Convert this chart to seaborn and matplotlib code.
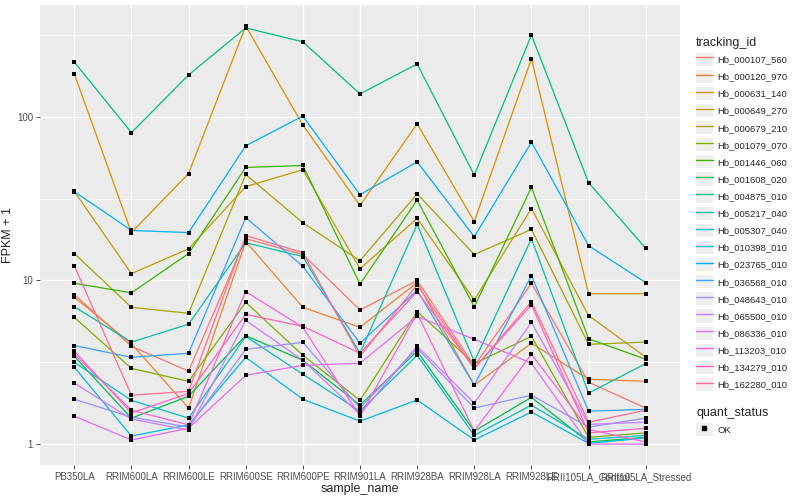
import numpy as np, pandas as pd
import matplotlib
matplotlib.use('Agg')
import matplotlib.pyplot as plt
import seaborn as sns
from matplotlib.lines import Line2D
from matplotlib.patches import Rectangle
from matplotlib.legend_handler import HandlerTuple

### Samples along the x axis:
sample_names = ['PB350LA', 'RRIM600LA', 'RRIM600LE', 'RRIM600SE', 'RRIM600PE', 'RRIM901LA',
                'RRIM928BA', 'RRIM928LA', 'RRIM928LE', 'RRII105LA_Control', 'RRII105LA_Stressed']

### FPKM + 1 per gene:
Hb_000107_560 = [8.2, 3.96, 2.79, 18.0, 14.4, 6.6, 10.0, 3.0, 9.6, 2.39, 1.66]
Hb_000120_970 = [7.9, 4.1, 1.66, 17.3, 6.85, 5.17, 9.7, 2.29, 4.13, 2.49, 2.42]
Hb_000631_140 = [183, 19.6, 45, 359, 89, 28.7, 90.6, 22.9, 226, 8.3, 8.3]
Hb_000649_270 = [35, 11.0, 15.6, 37.4, 47.5, 11.8, 23.9, 7.6, 27.5, 6.1, 3.4]
Hb_000679_210 = [14.6, 6.85, 6.3, 44.4, 22.5, 13.2, 33.8, 14.4, 20.5, 4.07, 4.2]
Hb_001079_070 = [5.95, 2.9, 2.42, 7.35, 3.49, 1.85, 6.45, 3.1, 4.55, 1.1, 1.17]
Hb_001446_060 = [9.6, 8.4, 14.6, 49, 50.4, 9.5, 31, 6.9, 37, 4.4, 3.3]
Hb_001608_020 = [3.44, 1.44, 1.96, 4.6, 3.25, 1.73, 3.69, 1.2, 1.93, 1.03, 1.1]
Hb_004875_010 = [216, 80, 180, 349, 287, 138, 210, 44, 316, 39.6, 15.7]
Hb_005217_040 = [6.9, 4.2, 5.4, 17.0, 14.0, 3.6, 22, 3.2, 18, 2.05, 3.1]
Hb_005307_040 = [3.16, 1.85, 1.44, 4.55, 2.67, 1.59, 3.49, 1.13, 1.73, 1.07, 1.13]
Hb_010398_010 = [2.95, 1.12, 1.31, 3.39, 1.88, 1.38, 1.86, 1.06, 1.57, 1.01, 1.09]
Hb_023765_010 = [34.9, 20.2, 19.6, 66.5, 101, 33.4, 53, 18.5, 70, 16.3, 9.7]
Hb_036568_010 = [4.0, 3.39, 3.59, 24.2, 12.2, 4.13, 8.7, 2.29, 10.7, 1.59, 1.63]
Hb_048643_010 = [1.88, 1.46, 1.27, 3.79, 4.19, 1.66, 3.85, 1.66, 1.99, 1.27, 1.44]
Hb_065500_010 = [2.36, 1.42, 1.22, 5.7, 3.25, 1.52, 3.96, 1.78, 5.54, 1.32, 1.36]
Hb_086336_010 = [1.48, 1.06, 1.25, 2.63, 3.03, 3.12, 6.03, 4.37, 3.12, 1.0, 1.0]
Hb_113203_010 = [3.54, 1.61, 1.31, 8.55, 5.17, 1.48, 6.3, 1.2, 3.54, 1.23, 1.03]
Hb_134279_010 = [3.69, 1.55, 2.04, 6.2, 5.24, 3.59, 8.55, 2.9, 7.1, 1.17, 1.25]
Hb_162280_010 = [12.3, 1.99, 2.1, 18.8, 14.8, 3.44, 9.4, 2.9, 7.4, 1.36, 1.61]

tracking_ids = ['Hb_000107_560', 'Hb_000120_970', 'Hb_000631_140', 'Hb_000649_270', 'Hb_000679_210',
                'Hb_001079_070', 'Hb_001446_060', 'Hb_001608_020', 'Hb_004875_010', 'Hb_005217_040',
                'Hb_005307_040', 'Hb_010398_010', 'Hb_023765_010', 'Hb_036568_010', 'Hb_048643_010',
                'Hb_065500_010', 'Hb_086336_010', 'Hb_113203_010', 'Hb_134279_010', 'Hb_162280_010']
seriesList = [Hb_000107_560, Hb_000120_970, Hb_000631_140, Hb_000649_270, Hb_000679_210,
              Hb_001079_070, Hb_001446_060, Hb_001608_020, Hb_004875_010, Hb_005217_040,
              Hb_005307_040, Hb_010398_010, Hb_023765_010, Hb_036568_010, Hb_048643_010,
              Hb_065500_010, Hb_086336_010, Hb_113203_010, Hb_134279_010, Hb_162280_010]

# ggplot default hue palette for 20 levels:
huePalette = ['#F8766D', '#EA8331', '#D89000', '#C09B00', '#A3A500', '#7CAE00', '#39B600', '#00BB4E',
              '#00BF7D', '#00C1A3', '#00BFC4', '#00BAE0', '#00B0F6', '#35A2FF', '#9590FF', '#C77CFF',
              '#E76BF3', '#FA62DB', '#FF62BC', '#FF6C91']

# Long format dataframe:
rows = []
for eachId, eachSeries in zip(tracking_ids, seriesList):
    for i, eachValue in enumerate(eachSeries):
        rows.append({'tracking_id': eachId, 'pos': i, 'sample_name': sample_names[i], 'fpkm': eachValue})
df = pd.DataFrame(rows)

### Style (ggplot grey look):
sns.set_theme(style='darkgrid', rc={'axes.facecolor': '#EBEBEB', 'grid.color': 'white'})
plt.rcParams['font.family'] = ['Liberation Sans', 'DejaVu Sans']

fig, ax = plt.subplots(figsize=(8, 5), dpi=100)
plt.subplots_adjust(left=0.05, right=0.85, top=0.99, bottom=0.07)

sns.lineplot(data=df, x='pos', y='fpkm', hue='tracking_id', hue_order=tracking_ids, palette=huePalette,
             estimator=None, sort=False, linewidth=0.9, legend=False, ax=ax)
sns.scatterplot(data=df, x='pos', y='fpkm', color='black', s=9, marker='s', linewidth=0, legend=False, ax=ax, zorder=5)

ax.set_yscale('log')
logMin, logMax = np.log10(df.fpkm.min()), np.log10(df.fpkm.max())
pad = (logMax - logMin) * 0.05
ax.set_ylim(10 ** (logMin - pad), 10 ** (logMax + pad))
ax.set_xlim(-0.6, len(sample_names) - 0.4)

ax.set_yticks([1, 10, 100])
ax.set_yticklabels(['1', '10', '100'])
ax.set_yticks([10 ** 0.5, 10 ** 1.5, 10 ** 2.5], minor=True)
ax.set_xticks(range(len(sample_names)))
ax.set_xticklabels(sample_names)
ax.grid(which='major', color='white', linewidth=1.0)
ax.grid(which='minor', axis='y', color='white', linewidth=0.5)
ax.tick_params(which='major', length=3, width=0.6, color='#333333', labelsize=7, labelcolor='#4D4D4D', pad=2)
ax.tick_params(which='minor', length=0)
ax.tick_params(axis='x', bottom=True)
ax.tick_params(axis='y', left=True)
for s in ax.spines.values():
    s.set_visible(False)

ax.set_xlabel('sample_name', fontsize=9, labelpad=1)
ax.set_ylabel('FPKM + 1', fontsize=9, labelpad=2)

# Legends (grey key boxes like ggplot):
keyBox = lambda: Rectangle((0, 0), 1, 1, facecolor='#EFEFEF', edgecolor='none')
handles = [(keyBox(), Line2D([], [], color=c, linewidth=1.0)) for c in huePalette]
leg1 = fig.legend(handles, tracking_ids, title='tracking_id', loc='upper left', bbox_to_anchor=(0.862, 0.94),
                  frameon=False, fontsize=6.8, title_fontsize=9, handlelength=1.75, handleheight=1.75,
                  labelspacing=0.43, handletextpad=0.5, borderpad=0.2,
                  handler_map={tuple: HandlerTuple(ndivide=1, pad=0)})
leg1._legend_box.align = 'left'
okHandle = [(keyBox(), Line2D([], [], color='black', marker='s', markersize=2.5, linestyle='None'))]
leg2 = fig.legend(okHandle, ['OK'], title='quant_status', loc='upper left', bbox_to_anchor=(0.862, 0.2),
                  frameon=False, fontsize=6.8, title_fontsize=9, handlelength=1.75, handleheight=1.75,
                  handletextpad=0.5, borderpad=0.2,
                  handler_map={tuple: HandlerTuple(ndivide=1, pad=0)})
leg2._legend_box.align = 'left'

plt.savefig('out.png', dpi=100)
